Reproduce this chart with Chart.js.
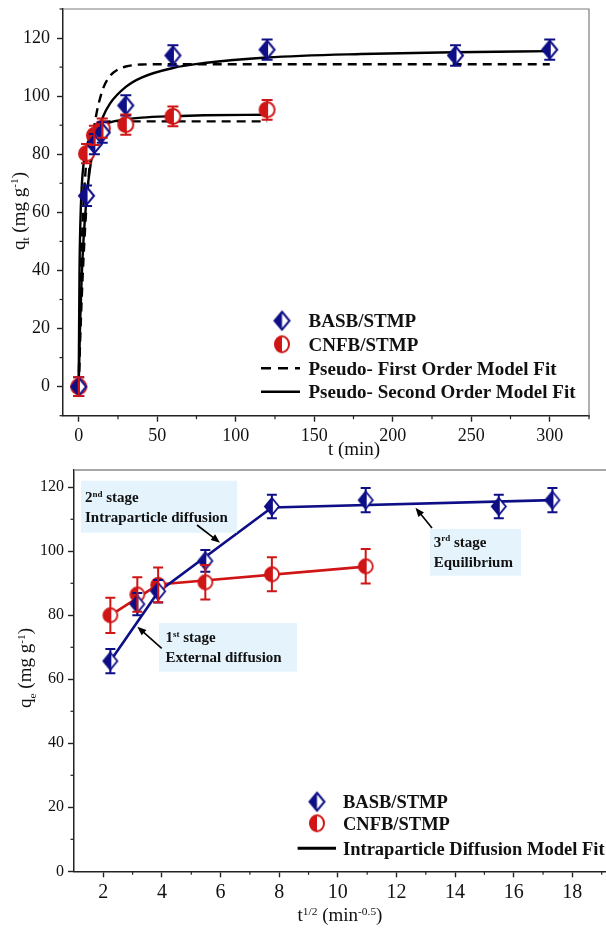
<!DOCTYPE html>
<html><head><meta charset="utf-8">
<script src="https://cdn.jsdelivr.net/npm/chart.js@4.4.1/dist/chart.umd.min.js"></script>
<style>
html,body{margin:0;padding:0;background:#fff;overflow:hidden;width:606px;height:931px;position:relative;}
#top{position:absolute;left:0;top:0;}
#bot{position:absolute;left:0;top:460px;}
</style></head><body>
<canvas id="top" width="606" height="460"></canvas>
<canvas id="bot" width="640" height="471"></canvas>
<script>
// ---------------- DATA: top panel (kinetics, t in min) ----------------
const basbTime   = [0, 5, 10, 15, 30, 60, 120, 240, 300];
const basbQt     = [0, 65.7, 83.5, 87.5, 96.8, 114.0, 116.0, 114.0, 116.0];
const basbErrTop = [3.2, 3.5, 3.5, 3.5, 3.5, 3.5, 3.5, 3.5, 3.5];
const cnfbTime   = [0, 5, 10, 15, 30, 60, 120];
const cnfbQt     = [0, 80.2, 86.5, 89.0, 90.2, 93.0, 95.3];
const cnfbErrTop = [3.2, 3.3, 3.3, 3.3, 3.5, 3.4, 3.4];

const basbPfoTime = [0, 1, 2, 3, 4, 5, 7, 10, 15, 20, 25, 30, 40, 60, 120, 180, 240, 300];
const basbPfoQt   = [0, 17.0, 31.4, 43.5, 53.8, 62.6, 76.3, 89.9, 101.8, 107.0, 109.2, 110.2, 110.9, 111.0, 111.0, 111.0, 111.0, 111.0];
const cnfbPfoTime = [0, 1, 2, 3, 4, 5, 7, 10, 15, 20, 30, 60, 120];
const cnfbPfoQt   = [0, 29.2, 49.0, 62.5, 71.7, 78.0, 85.1, 89.4, 91.0, 91.3, 91.3, 91.3, 91.3];
const basbPsoTime = [0, 0.5, 1, 2, 3, 5, 7, 10, 15, 20, 30, 40, 60, 80, 120, 180, 240, 300];
const basbPsoQt   = [0, 12.9, 23.3, 38.9, 50.0, 64.9, 74.4, 83.5, 92.3, 97.5, 103.2, 106.4, 109.7, 111.4, 113.3, 114.5, 115.1, 115.5];
const cnfbPsoTime = [0, 0.5, 1, 2, 3, 5, 7, 10, 15, 20, 30, 40, 60, 80, 120];
const cnfbPsoQt   = [0, 39.0, 55.2, 69.6, 76.2, 82.5, 85.6, 88.0, 90.0, 91.0, 92.0, 92.6, 93.1, 93.4, 93.6];

const topXTickLabels = [0, 50, 100, 150, 200, 250, 300];
const topYTickLabels = [0, 20, 40, 60, 80, 100, 120];

// ---------------- DATA: bottom panel (intraparticle diffusion) ----------------
const sqrtT         = [2.24, 3.16, 3.87, 5.48, 7.75, 10.95, 15.49, 17.32];
const basbQe        = [65.7, 83.5, 87.5, 97.0, 114.0, 116.0, 114.0, 116.0];
const basbErrBottom = [3.8, 3.5, 3.5, 3.4, 3.7, 3.8, 3.7, 3.8];
const cnfbSqrtT     = [2.24, 3.16, 3.87, 5.48, 7.75, 10.95];
const cnfbQe        = [80.0, 86.5, 89.5, 90.3, 92.8, 95.3];
const cnfbErrBottom = [5.5, 5.4, 5.4, 5.4, 5.3, 5.4];
const basbIpdX = [2.24, 3.87, 7.75, 17.32];
const basbIpdY = [65.7, 87.3, 113.7, 116.0];
const cnfbIpdX = [2.24, 3.87, 10.95];
const cnfbIpdY = [80.0, 89.6, 95.2];

const botXTickLabels = [2, 4, 6, 8, 10, 12, 14, 16, 18];
const botYTickLabels = [0, 20, 40, 60, 80, 100, 120];

// ---------------- helpers ----------------
const SERIF = '"Liberation Serif","Times New Roman",serif';
const NAVY = '#0e0e86';
const RED = '#cf1515';
const AX = '#222';

const pts = (xs, ys) => xs.map((x, i) => ({x, y: ys[i]}));

function makeMarker(shape, color, w, h, lw) {
  const pad = Math.ceil(lw) + 1;
  const c = document.createElement('canvas');
  c.width = Math.ceil(w + 2 * pad); c.height = Math.ceil(h + 2 * pad);
  const g = c.getContext('2d');
  const cx = c.width / 2, cy = c.height / 2;
  const path = () => {
    g.beginPath();
    if (shape === 'diamond') {
      g.moveTo(cx, cy - h / 2); g.lineTo(cx + w / 2, cy); g.lineTo(cx, cy + h / 2); g.lineTo(cx - w / 2, cy); g.closePath();
    } else {
      g.ellipse(cx, cy, w / 2, h / 2, 0, 0, Math.PI * 2);
    }
  };
  path(); g.fillStyle = '#fff'; g.fill();
  g.save(); g.beginPath(); g.rect(0, 0, cx, c.height); g.clip(); path(); g.fillStyle = color; g.fill(); g.restore();
  path(); g.lineWidth = lw; g.strokeStyle = color; g.lineJoin = 'miter'; g.stroke();
  return c;
}

function drawRich(ctx, parts, x, yMid, size, align, bold, color) {
  const w = bold ? 'bold ' : '';
  const base = yMid + size * 0.34;
  let total = 0;
  const segs = parts.map(p => {
    const s = (p.sub || p.sup) ? size * 0.6 : size;
    ctx.font = `${w}${s}px ${SERIF}`;
    const mw = ctx.measureText(p.t).width;
    total += mw;
    return {p, s, mw};
  });
  let cx = align === 'center' ? x - total / 2 : x;
  ctx.textAlign = 'left'; ctx.textBaseline = 'alphabetic';
  ctx.fillStyle = color || '#111';
  for (const sg of segs) {
    ctx.font = `${w}${sg.s}px ${SERIF}`;
    const dy = sg.p.sub ? size * 0.22 : (sg.p.sup ? -size * 0.36 : 0);
    ctx.fillText(sg.p.t, cx, base + dy);
    cx += sg.mw;
  }
}

function drawErrorBars(ctx, xs, ys, xv, yv, ev, color, capW) {
  ctx.save();
  ctx.strokeStyle = color; ctx.lineWidth = 2;
  for (let i = 0; i < xv.length; i++) {
    const px = xs.getPixelForValue(xv[i]);
    const p1 = ys.getPixelForValue(yv[i] - ev[i]);
    const p2 = ys.getPixelForValue(yv[i] + ev[i]);
    ctx.beginPath();
    ctx.moveTo(px, p1); ctx.lineTo(px, p2);
    ctx.moveTo(px - capW / 2, p1); ctx.lineTo(px + capW / 2, p1);
    ctx.moveTo(px - capW / 2, p2); ctx.lineTo(px + capW / 2, p2);
    ctx.stroke();
  }
  ctx.restore();
}

function seg(ctx, x1, y1, x2, y2) { ctx.beginPath(); ctx.moveTo(x1, y1); ctx.lineTo(x2, y2); ctx.stroke(); }

function arrow(ctx, x1, y1, x2, y2) {
  const a = Math.atan2(y2 - y1, x2 - x1), L = 9, W = 3.6;
  ctx.save();
  ctx.strokeStyle = '#000'; ctx.fillStyle = '#000'; ctx.lineWidth = 1.6;
  seg(ctx, x1, y1, x2 - Math.cos(a) * L * 0.7, y2 - Math.sin(a) * L * 0.7);
  ctx.beginPath();
  ctx.moveTo(x2, y2);
  ctx.lineTo(x2 - L * Math.cos(a) + W * Math.sin(a), y2 - L * Math.sin(a) - W * Math.cos(a));
  ctx.lineTo(x2 - L * Math.cos(a) - W * Math.sin(a), y2 - L * Math.sin(a) + W * Math.cos(a));
  ctx.closePath(); ctx.fill();
  ctx.restore();
}

const mBasbTop = makeMarker('diamond', NAVY, 15, 18, 2);
const mCnfbTop = makeMarker('circle', RED, 15, 15, 2);
const mBasbBot = makeMarker('diamond', NAVY, 14, 17, 1.8);
const mCnfbBot = makeMarker('circle', RED, 14, 14, 1.8);
const mBasbLeg = makeMarker('diamond', NAVY, 15, 18, 2);
const mCnfbLeg = makeMarker('circle', RED, 14, 16, 2);

function axisCfg(o) {
  return {
    type: 'linear', min: o.min, max: o.max,
    afterBuildTicks(s) { s.ticks = o.labels.map(v => ({value: v})); },
    afterFit(s) {
      if (o.width !== undefined) s.width = o.width;
      if (o.height !== undefined) s.height = o.height;
      s.paddingTop = 0; s.paddingBottom = 0; s.paddingLeft = 0; s.paddingRight = 0;
    },
    ticks: {
      autoSkip: false, maxRotation: 0, minRotation: 0,
      padding: o.pad, color: '#111', font: {family: SERIF, size: o.font},
      callback: v => String(v)
    },
    grid: {drawOnChartArea: false, drawTicks: true, tickLength: 6, tickColor: AX, tickWidth: 1.4, color: AX},
    border: {display: true, color: AX, width: 1.5}
  };
}

// ---------------- TOP CHART ----------------
const topPlugin = {
  id: 'topDecor',
  afterDatasetsDraw(chart) {
    const {ctx, scales: {x, y}} = chart;
    drawErrorBars(ctx, x, y, basbTime, basbQt, basbErrTop, NAVY, 11);
    drawErrorBars(ctx, x, y, cnfbTime, cnfbQt, cnfbErrTop, RED, 11);
  },
  afterDraw(chart) {
    const {ctx, chartArea: a, scales: {x, y}} = chart;
    ctx.save();
    ctx.strokeStyle = '#7d7d7d'; ctx.lineWidth = 1.2;
    ctx.beginPath(); ctx.moveTo(a.left, a.top); ctx.lineTo(a.right, a.top); ctx.lineTo(a.right, a.bottom); ctx.stroke();
    ctx.strokeStyle = AX; ctx.lineWidth = 1.2;
    for (let v = -10; v <= 130; v += 10) if (v % 20 !== 0) { const p = y.getPixelForValue(v); seg(ctx, a.left, p, a.left - 3.5, p); }
    for (let v = 25; v <= 325; v += 50) { const p = x.getPixelForValue(v); seg(ctx, p, a.bottom, p, a.bottom + 3.5); }
    // titles
    drawRich(ctx, [{t: 't (min)'}], 354, 449, 19, 'center', false);
    ctx.save(); ctx.translate(18.5, 211); ctx.rotate(-Math.PI / 2);
    drawRich(ctx, [{t: 'q'}, {t: 't', sub: true}, {t: ' (mg g'}, {t: '-1', sup: true}, {t: ')'}], 0, 0, 19, 'center', false);
    ctx.restore();
    // legend
    const rows = [320.7, 344.3, 368.3, 391.7];
    ctx.drawImage(mBasbLeg, 282 - mBasbLeg.width / 2, rows[0] - mBasbLeg.height / 2);
    ctx.drawImage(mCnfbLeg, 282 - mCnfbLeg.width / 2, rows[1] - mCnfbLeg.height / 2);
    ctx.strokeStyle = '#000'; ctx.lineWidth = 2.6;
    ctx.setLineDash([10, 7]); seg(ctx, 261, rows[2], 300, rows[2]);
    ctx.setLineDash([]); seg(ctx, 261, rows[3], 300, rows[3]);
    const labels = ['BASB/STMP', 'CNFB/STMP', 'Pseudo- First Order Model Fit', 'Pseudo- Second Order Model Fit'];
    labels.forEach((t, i) => drawRich(ctx, [{t}], 308.5, rows[i], 19, 'left', true));
    ctx.restore();
  }
};

new Chart(document.getElementById('top'), {
  type: 'scatter',
  data: {datasets: [
    {label: 'BASB/STMP', data: pts(basbTime, basbQt), pointStyle: mBasbTop, pointRadius: 8, showLine: false},
    {label: 'CNFB/STMP', data: pts(cnfbTime, cnfbQt), pointStyle: mCnfbTop, pointRadius: 8, showLine: false},
    {label: 'Pseudo- First Order Model Fit (BASB)', data: pts(basbPfoTime, basbPfoQt), showLine: true, borderColor: '#000', borderWidth: 2.4, borderDash: [9, 6], pointRadius: 0, cubicInterpolationMode: 'monotone'},
    {label: 'Pseudo- First Order Model Fit (CNFB)', data: pts(cnfbPfoTime, cnfbPfoQt), showLine: true, borderColor: '#000', borderWidth: 2.4, borderDash: [9, 6], pointRadius: 0, cubicInterpolationMode: 'monotone'},
    {label: 'Pseudo- Second Order Model Fit (BASB)', data: pts(basbPsoTime, basbPsoQt), showLine: true, borderColor: '#000', borderWidth: 2.4, pointRadius: 0, cubicInterpolationMode: 'monotone'},
    {label: 'Pseudo- Second Order Model Fit (CNFB)', data: pts(cnfbPsoTime, cnfbPsoQt), showLine: true, borderColor: '#000', borderWidth: 2.4, pointRadius: 0, cubicInterpolationMode: 'monotone'}
  ]},
  options: {
    responsive: false, animation: false, devicePixelRatio: 1, events: [],
    layout: {padding: {left: 0, top: 7, right: 17, bottom: 0}},
    plugins: {legend: {display: false}, tooltip: {enabled: false}, title: {display: false}},
    scales: {
      x: axisCfg({min: -10, max: 325, labels: topXTickLabels, pad: 4, font: 18, height: 44.3}),
      y: axisCfg({min: -10, max: 130, labels: topYTickLabels, pad: 7, font: 18, width: 63})
    }
  },
  plugins: [topPlugin]
});

// ---------------- BOTTOM CHART ----------------
const botPlugin = {
  id: 'botDecor',
  afterDatasetsDraw(chart) {
    const {ctx, scales: {x, y}} = chart;
    drawErrorBars(ctx, x, y, sqrtT, basbQe, basbErrBottom, NAVY, 10);
    drawErrorBars(ctx, x, y, cnfbSqrtT, cnfbQe, cnfbErrBottom, RED, 10);
  },
  afterDraw(chart) {
    const {ctx, chartArea: a, scales: {x, y}} = chart;
    ctx.save();
    ctx.strokeStyle = '#8a8a8a'; ctx.lineWidth = 1.6;
    ctx.beginPath(); ctx.moveTo(a.left, a.top); ctx.lineTo(a.right, a.top); ctx.lineTo(a.right, a.bottom); ctx.stroke();
    ctx.strokeStyle = AX; ctx.lineWidth = 1.2;
    for (let v = 10; v <= 120; v += 20) { const p = y.getPixelForValue(v); seg(ctx, a.left, p, a.left - 3.5, p); }
    for (let v = 3; v <= 19; v += 2) { const p = x.getPixelForValue(v); seg(ctx, p, a.bottom, p, a.bottom + 3.5); }
    // titles
    drawRich(ctx, [{t: 't'}, {t: '1/2', sup: true}, {t: ' (min'}, {t: '-0.5', sup: true}, {t: ')'}], 340, 455, 19, 'center', false);
    ctx.save(); ctx.translate(25, 208); ctx.rotate(-Math.PI / 2);
    drawRich(ctx, [{t: 'q'}, {t: 'e', sub: true}, {t: ' (mg g'}, {t: '-1', sup: true}, {t: ')'}], 0, 0, 19, 'center', false);
    ctx.restore();
    // annotations
    const BG = '#e4f3fc';
    ctx.fillStyle = BG;
    ctx.fillRect(81, 20.7, 156, 52);
    ctx.fillRect(430, 69, 91, 46.7);
    ctx.fillRect(159, 163, 138, 48.7);
    drawRich(ctx, [{t: '2'}, {t: 'nd', sup: true}, {t: ' stage'}], 85, 37, 15, 'left', true);
    drawRich(ctx, [{t: 'Intraparticle diffusion'}], 85, 56.7, 15, 'left', true);
    drawRich(ctx, [{t: '3'}, {t: 'rd', sup: true}, {t: ' stage'}], 433.7, 81.7, 15, 'left', true);
    drawRich(ctx, [{t: 'Equilibrium'}], 433.7, 101.7, 15, 'left', true);
    drawRich(ctx, [{t: '1'}, {t: 'st', sup: true}, {t: ' stage'}], 165.4, 177, 15, 'left', true);
    drawRich(ctx, [{t: 'External diffusion'}], 165.4, 196.7, 15, 'left', true);
    arrow(ctx, 197, 65, 220, 82.7);
    arrow(ctx, 432, 68, 415.5, 47.7);
    arrow(ctx, 161.7, 188.3, 137.3, 166.7);
    // legend
    const rows = [341.7, 363.3, 388.3];
    ctx.drawImage(mBasbLeg, 317 - mBasbLeg.width / 2, rows[0] - mBasbLeg.height / 2);
    ctx.drawImage(mCnfbLeg, 317 - mCnfbLeg.width / 2, rows[1] - mCnfbLeg.height / 2);
    ctx.strokeStyle = '#000'; ctx.lineWidth = 3; seg(ctx, 297.6, rows[2], 336, rows[2]);
    ['BASB/STMP', 'CNFB/STMP', 'Intraparticle Diffusion Model Fit'].forEach((t, i) => drawRich(ctx, [{t}], 343, rows[i], 18.5, 'left', true));
    ctx.restore();
  }
};

new Chart(document.getElementById('bot'), {
  type: 'scatter',
  data: {datasets: [
    {label: 'BASB/STMP', data: pts(sqrtT, basbQe), pointStyle: mBasbBot, pointRadius: 8, showLine: false},
    {label: 'CNFB/STMP', data: pts(cnfbSqrtT, cnfbQe), pointStyle: mCnfbBot, pointRadius: 8, showLine: false},
    {label: 'Intraparticle Diffusion Model Fit (BASB)', data: pts(basbIpdX, basbIpdY), showLine: true, borderColor: NAVY, borderWidth: 2.6, pointRadius: 0, tension: 0},
    {label: 'Intraparticle Diffusion Model Fit (CNFB)', data: pts(cnfbIpdX, cnfbIpdY), showLine: true, borderColor: RED, borderWidth: 2.6, pointRadius: 0, tension: 0}
  ]},
  options: {
    responsive: false, animation: false, devicePixelRatio: 1, events: [],
    layout: {padding: {left: 0, top: 10, right: 5.4, bottom: 0}},
    plugins: {legend: {display: false}, tooltip: {enabled: false}, title: {display: false}},
    scales: {
      x: axisCfg({min: 1, max: 20, labels: botXTickLabels, pad: 3, font: 20, height: 59.7}),
      y: axisCfg({min: 0, max: 125.4, labels: botYTickLabels, pad: 4, font: 16, width: 74})
    }
  },
  plugins: [botPlugin]
});
</script>
</body></html>
